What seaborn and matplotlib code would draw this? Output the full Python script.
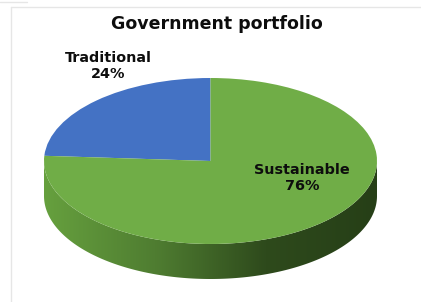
import numpy as np
import matplotlib
matplotlib.use("Agg")
import matplotlib.pyplot as plt
import seaborn as sns
from matplotlib.path import Path
from matplotlib.patches import PathPatch
from matplotlib.lines import Line2D
from matplotlib.colors import LinearSegmentedColormap

# data
categories = ["Traditional", "Sustainable"]
shares = [24, 76]
colors = ["#4472c4", "#70ad47"]
title = "Government portfolio"

sns.set_theme(style="white")
plt.rcParams['font.family'] = ['DejaVu Sans']

W, H = 421, 302
fig = plt.figure(figsize=(W / 100, H / 100), dpi=100)
fig.patch.set_facecolor("white")

# pie axes: top face ellipse spans x 44..377, y 78..244, side depth 35 px
depth = 35 / 83
left, right, top, bottom = 44, 377, 78, 279
ax = fig.add_axes([left / W, (H - bottom) / H, (right - left) / W, (bottom - top) / H])

# side of the 3d disc with a light-to-dark gradient
t = np.linspace(np.pi, 2 * np.pi, 200)
lower = np.column_stack([np.cos(t), np.sin(t) - depth])
upper = np.column_stack([np.cos(t[::-1]), np.sin(t[::-1])])
verts = np.vstack([lower, upper, lower[:1]])
side = PathPatch(Path(verts, closed=True), facecolor="none", edgecolor="none")
ax.add_patch(side)
side_cmap = LinearSegmentedColormap.from_list("side", ["#66a03e", "#4f7d31", "#2e4a1c", "#263f17"])
grad = np.linspace(0, 1, 256).reshape(1, -1)
img = ax.imshow(grad, cmap=side_cmap, extent=(-1, 1, -1 - depth, 0.2), aspect="auto", zorder=0)
img.set_clip_path(side)

# top face
ax.pie(shares, colors=colors, startangle=90, counterclock=True, radius=1,
       wedgeprops=dict(linewidth=0), frame=False)
ax.set_aspect("auto")
ax.set_xlim(-1, 1)
ax.set_ylim(-1 - depth, 1)
ax.axis("off")

# title and labels
fig.text(217 / W, 1 - 24 / H, title, ha="center", va="center", fontsize=12.5, fontweight="bold", color="#0d0d0d")
label_pos = [(108, 66), (302, 178)]
for cat, pct, (px, py) in zip(categories, shares, label_pos):
    fig.text(px / W, 1 - py / H, f"{cat}\n{pct}%", ha="center", va="center", fontsize=10.4,
             fontweight="bold", color="#0d0d0d", linespacing=1.1)

# light chart frame
frame_col = "#e6e6e6"
fig.add_artist(Line2D([10.5 / W, 1], [1 - 6.5 / H, 1 - 6.5 / H], color=frame_col, lw=1))
fig.add_artist(Line2D([10.5 / W, 10.5 / W], [0, 1 - 6.5 / H], color=frame_col, lw=1))
fig.add_artist(Line2D([0, 27 / W], [1 - 2 / H, 1 - 2 / H], color=frame_col, lw=1))

fig.savefig("out.png", dpi=100, facecolor="white")
